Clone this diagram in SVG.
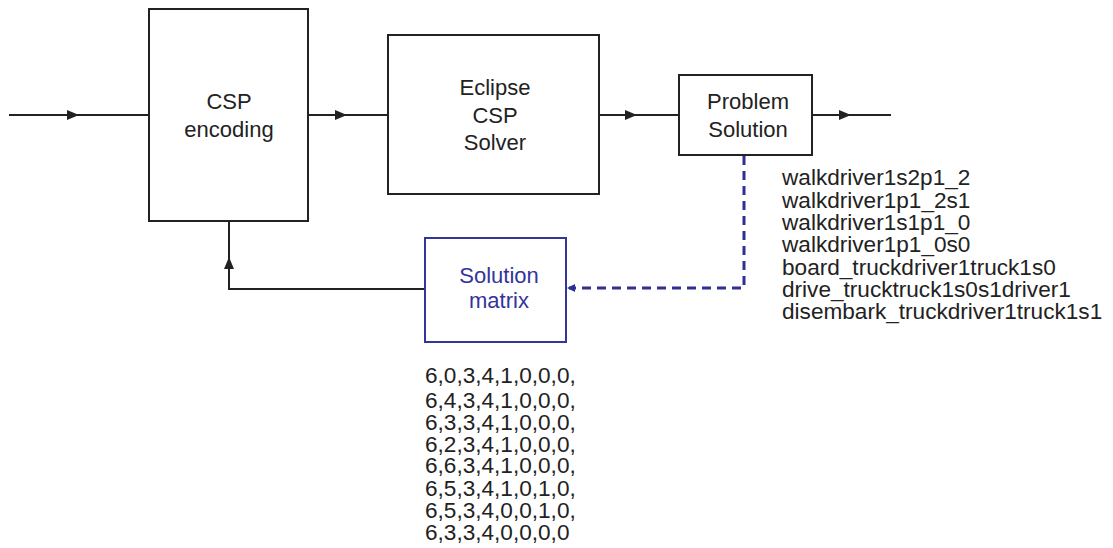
<svg xmlns="http://www.w3.org/2000/svg" width="1113" height="548" viewBox="0 0 1113 548">
<defs>
<style>
.box{fill:#fff;stroke:#222;stroke-width:2}
.bbox{fill:#fff;stroke:#33359a;stroke-width:2}
.t{font-family:"Liberation Sans",Arial,sans-serif;font-size:22px;fill:#222}
.l{font-size:22.6px}
.c{text-anchor:middle}
.bt{fill:#33359a}
.ln{fill:none;stroke:#222;stroke-width:2}
.dl{fill:none;stroke:#2e3192;stroke-width:3;stroke-dasharray:9,6}
</style>
<marker id="ah" viewBox="0 0 12 10" refX="12" refY="5" markerWidth="12" markerHeight="10" markerUnits="userSpaceOnUse" orient="auto">
<path d="M0,0 L12,5 L0,10 Z" fill="#222"/>
</marker>
</defs>
<rect width="1113" height="548" fill="#fff"/>
<g id="connectors">
<path class="ln" d="M9,115 H79" marker-end="url(#ah)"/>
<path class="ln" d="M79,115 H149"/>
<path class="ln" d="M308,115 H347" marker-end="url(#ah)"/>
<path class="ln" d="M347,115 H388"/>
<path class="ln" d="M599,115 H637" marker-end="url(#ah)"/>
<path class="ln" d="M637,115 H679"/>
<path class="ln" d="M812,115 H851" marker-end="url(#ah)"/>
<path class="ln" d="M851,115 H891"/>
<path class="ln" d="M425,289 H229 V257"/>
<path class="ln" d="M229,268 V257" marker-end="url(#ah)"/>
<path class="ln" d="M229,257 V221"/>
<path class="dl" d="M744,156 V288 H569"/>
<path d="M567,288 L575,284 L575,292 Z" fill="#2e3192"/>
</g>
<g id="csp-encoding">
<rect class="box" x="149" y="9" width="159" height="212"/>
<text class="t c" x="229" y="109">CSP</text>
<text class="t c" x="229" y="137">encoding</text>
</g>
<g id="eclipse-solver">
<rect class="box" x="388" y="35" width="211" height="159"/>
<text class="t c" x="495" y="95">Eclipse</text>
<text class="t c" x="495" y="123">CSP</text>
<text class="t c" x="495" y="150">Solver</text>
</g>
<g id="problem-solution">
<rect class="box" x="679" y="75" width="133" height="80"/>
<text class="t c" x="748" y="109">Problem</text>
<text class="t c" x="748" y="137">Solution</text>
</g>
<g id="solution-matrix">
<rect class="bbox" x="425" y="238" width="141" height="104"/>
<text class="t c bt" x="499" y="283">Solution</text>
<text class="t c bt" x="499" y="308">matrix</text>
</g>
<g id="actions">
<text class="t l" x="782" y="185">walkdriver1s2p1_2</text>
<text class="t l" x="782" y="208">walkdriver1p1_2s1</text>
<text class="t l" x="782" y="230">walkdriver1s1p1_0</text>
<text class="t l" x="782" y="252">walkdriver1p1_0s0</text>
<text class="t l" x="782" y="275">board_truckdriver1truck1s0</text>
<text class="t l" x="782" y="297">drive_trucktruck1s0s1driver1</text>
<text class="t l" x="782" y="319">disembark_truckdriver1truck1s1</text>
</g>
<g id="matrix-values">
<text class="t l" x="425" y="383">6,0,3,4,1,0,0,0,</text>
<text class="t l" x="425" y="408">6,4,3,4,1,0,0,0,</text>
<text class="t l" x="425" y="430">6,3,3,4,1,0,0,0,</text>
<text class="t l" x="425" y="452">6,2,3,4,1,0,0,0,</text>
<text class="t l" x="425" y="473">6,6,3,4,1,0,0,0,</text>
<text class="t l" x="425" y="496">6,5,3,4,1,0,1,0,</text>
<text class="t l" x="425" y="518">6,5,3,4,0,0,1,0,</text>
<text class="t l" x="425" y="540">6,3,3,4,0,0,0,0</text>
</g>
</svg>
